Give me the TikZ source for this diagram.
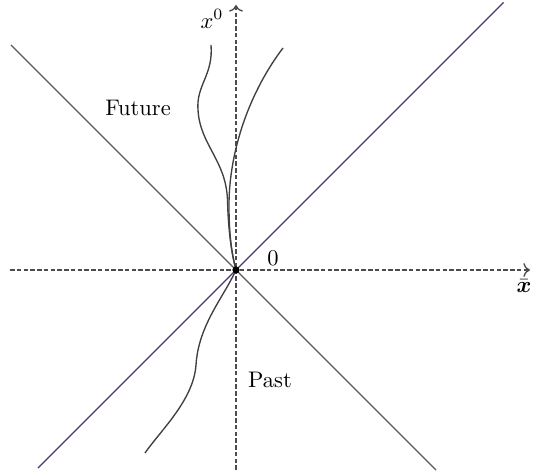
\documentclass[tikz,border=0pt]{standalone}
\usepackage{amsmath,amssymb}
\usepackage{tikz}
\usetikzlibrary{arrows.meta,calc}
\definecolor{conepurple}{RGB}{76,50,118}

\begin{document}
\begin{tikzpicture}[x=0.78cm, y=0.78cm,
    axis/.style={dashed, dash pattern=on 2pt off 1pt, gray!60!black, semithick, ->},
    cone/.style={semithick, gray!70!black},
    worldline/.style={semithick, black!75}]
  \useasboundingbox (-4.72,-4.06) rectangle (6.0,5.4);
  % Axes
  \coordinate (O) at (0,0);
  \coordinate (xl) at (-4.52,0);
  \coordinate (xr) at (5.88,0);
  \coordinate (tb) at (0,-4.0);
  \coordinate (tt) at (0,5.3);
  \draw[axis] (xl) -- (xr);
  \draw[axis] (tb) -- (tt);
  % Light cone
  \coordinate (cl) at (-4.5,4.5);
  \coordinate (cr) at (4.0,-4.0);
  \coordinate (pl) at (-3.96,-3.96);
  \coordinate (pr) at (5.35,5.35);
  \draw[cone] (cl) -- (cr);
  \draw[semithick, conepurple] (pl) -- (pr);
  % World lines through the origin
  \draw[worldline] (-0.5,4.5) .. controls (-0.45,3.9) and (-0.8,3.7) .. (-0.76,3.2)
    .. controls (-0.72,2.5) and (-0.2,2.2) .. (-0.17,1.4)
    .. controls (-0.15,0.6) and (-0.05,0.2) .. (O);
  \draw[worldline] (0.94,4.44) .. controls (0.3,3.6) and (-0.16,2.4) .. (-0.14,1.2)
    .. controls (-0.13,0.5) and (-0.05,0.2) .. (O);
  \draw[worldline] (O) .. controls (-0.25,-0.55) and (-0.75,-1.1) .. (-0.8,-1.9)
    .. controls (-0.85,-2.6) and (-1.5,-3.2) .. (-1.82,-3.66);
  % Event at the origin
  \fill (O) circle (1.6pt);
  % Labels
  \node (x0) at (-0.48,5.02) {$x^0$};
  \node (zero) at (0.74,0.24) {$0$};
  \node (xvec) at (5.76,-0.32) {$\bar{\boldsymbol{x}}$};
  \node (future) at (-1.96,3.24) {Future};
  \node (past) at (0.68,-2.2) {Past};
\end{tikzpicture}
\end{document}
